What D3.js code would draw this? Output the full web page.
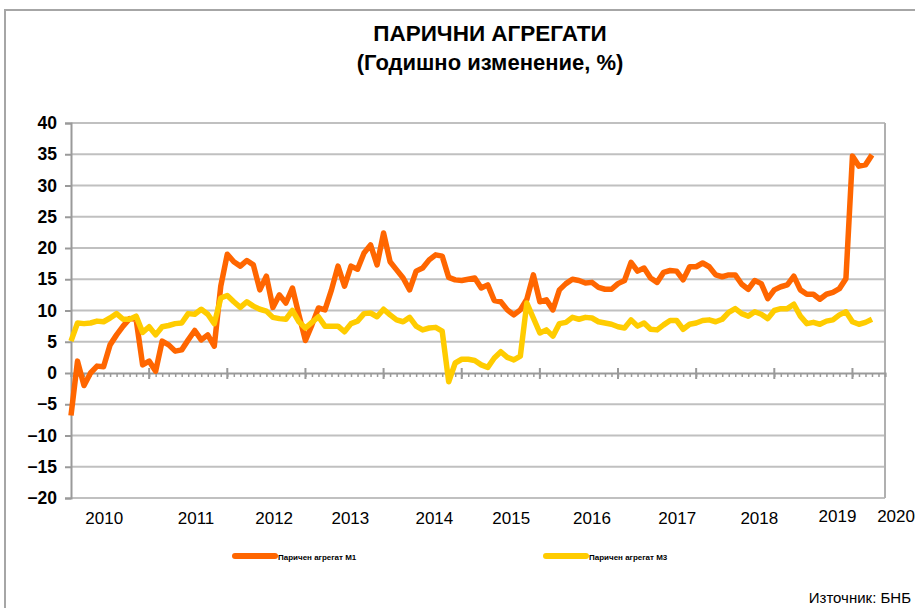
<!DOCTYPE html>
<html>
<head>
<meta charset="utf-8">
<script src="https://cdn.jsdelivr.net/npm/d3@7"></script>
<style>
  body { margin: 0; background: #fff; }
  svg { display: block; font-family: "Liberation Sans", Arial, sans-serif; }
</style>
</head>
<body>
<div id="main"></div>
<script>
/* Size */
const width = 915, height = 608;

/* Data: monthly categories, Jan 2010 .. Jun 2020 */
const months = d3.timeMonth.range(new Date(2010, 0, 1), new Date(2020, 6, 1));

// Паричен агрегат М1, годишно изменение %
const m1 = [
  -6.8, 1.9, -2.0, 0.0, 1.1, 1.0, 4.5, 6.1, 7.5, 8.7, 8.6, 1.3,
  1.9, 0.3, 5.1, 4.5, 3.5, 3.7, 5.3, 6.8, 5.3, 6.1, 4.3, 13.9,
  19.0, 17.8, 17.1, 18.0, 17.3, 13.3, 15.5, 10.5, 12.5, 11.2, 13.6, 9.3,
  5.2, 7.7, 10.4, 10.1, 13.3, 17.1, 13.9, 17.1, 16.6, 19.2, 20.5, 17.3,
  22.4, 17.8, 16.5, 15.2, 13.3, 16.3, 16.8, 18.1, 18.9, 18.7, 15.3, 14.9,
  14.8, 15.0, 15.2, 13.6, 14.1, 11.6, 11.4, 10.1, 9.3, 10.1, 11.8, 15.7,
  11.4, 11.7, 10.1, 13.3, 14.3, 15.0, 14.8, 14.4, 14.5, 13.7, 13.4, 13.4,
  14.3, 14.8, 17.7, 16.3, 16.8, 15.2, 14.5, 16.1, 16.4, 16.3, 14.9, 17.0,
  17.0, 17.6, 17.0, 15.7, 15.4, 15.7, 15.7, 14.2, 13.4, 14.8, 14.3, 11.9,
  13.3, 13.8, 14.1, 15.5, 13.3, 12.6, 12.6, 11.8, 12.6, 12.9, 13.5, 15.1,
  34.7, 33.1, 33.3, 34.9
];

// Паричен агрегат М3, годишно изменение %
const m3 = [
  5.1, 8.0, 7.9, 8.0, 8.3, 8.2, 8.8, 9.5, 8.6, 8.6, 9.1, 6.5,
  7.4, 6.1, 7.4, 7.6, 7.9, 8.0, 9.5, 9.4, 10.2, 9.4, 7.9, 12.0,
  12.4, 11.4, 10.5, 11.4, 10.7, 10.2, 9.9, 8.9, 8.7, 8.6, 10.0, 8.2,
  7.2, 8.1, 9.0, 7.5, 7.5, 7.5, 6.6, 7.9, 8.3, 9.5, 9.6, 9.0,
  10.2, 9.3, 8.5, 8.2, 8.9, 7.5, 6.9, 7.2, 7.3, 6.7, -1.4, 1.6,
  2.2, 2.2, 2.0, 1.3, 0.9, 2.4, 3.4, 2.5, 2.1, 2.7, 11.2, 8.8,
  6.4, 6.9, 5.9, 7.9, 8.1, 8.9, 8.6, 8.9, 8.8, 8.2, 8.0, 7.8,
  7.4, 7.2, 8.5, 7.5, 8.0, 7.0, 6.9, 7.7, 8.4, 8.4, 7.0, 7.8,
  8.0, 8.4, 8.5, 8.2, 8.6, 9.7, 10.3, 9.5, 9.1, 9.8, 9.4, 8.7,
  10.0, 10.3, 10.3, 11.0, 9.1, 7.9, 8.1, 7.8, 8.3, 8.5, 9.3, 9.8,
  8.2, 7.8, 8.1, 8.6
];

const yTicks = [-20, -15, -10, -5, 0, 5, 10, 15, 20, 25, 30, 35, 40];
const yearLabels = ["2010","2011","2012","2013","2014","2015","2016","2017","2018","2019","2020"];
// month index under which each year label sits (as placed in the original)
const yearLabelMonth = [5.1, 19.2, 31.2, 42.9, 55.8, 67.6, 80.0, 93.1, 105.7, 117.7, 126.7];

const series = [
  { name: "Паричен агрегат М1", values: m1, color: "#FF6600" },
  { name: "Паричен агрегат М3", values: m3, color: "#FFCC00" }
];

/* Scales */
const plotLeft = 71, plotRight = 885, plotTop = 123, plotBottom = 498;
const x = d3.scaleLinear().domain([0, months.length - 1]).range([plotLeft, plotRight]);
const y = d3.scaleLinear().domain([-20, 40]).range([plotBottom, plotTop]);

const svg = d3.select("#main").append("svg")
  .attr("width", width).attr("height", height);

svg.append("rect").attr("width", width).attr("height", height).attr("fill", "#fff");

// outer frame
svg.append("rect")
  .attr("x", 5).attr("y", 10).attr("width", width + 20).attr("height", height + 20)
  .attr("fill", "none").attr("stroke", "#a6a6a6").attr("stroke-width", 2);

/* Titles */
svg.append("text")
  .attr("x", 490).attr("y", 41)
  .attr("text-anchor", "middle")
  .style("font-size", "22.5px").style("font-weight", "bold")
  .text("ПАРИЧНИ АГРЕГАТИ");
svg.append("text")
  .attr("x", 490).attr("y", 70)
  .attr("text-anchor", "middle")
  .style("font-size", "22px").style("font-weight", "bold")
  .text("(Годишно изменение, %)");

/* Grid */
svg.append("g")
  .selectAll("line")
  .data(yTicks.filter(d => d !== 0))
  .join("line")
  .attr("x1", plotLeft).attr("x2", plotRight)
  .attr("y1", d => y(d)).attr("y2", d => y(d))
  .attr("stroke", "#c0c0c0").attr("stroke-width", 2);

// right border of plot
svg.append("line")
  .attr("x1", plotRight).attr("x2", plotRight).attr("y1", plotTop).attr("y2", plotBottom)
  .attr("stroke", "#b0b0b0").attr("stroke-width", 2);

/* Y axis */
const yAxis = svg.append("g")
  .attr("transform", `translate(${plotLeft},0)`)
  .call(d3.axisLeft(y).tickValues(yTicks).tickSize(6).tickPadding(8));
yAxis.select(".domain").attr("stroke", "#9a9a9a").attr("stroke-width", 2);
yAxis.selectAll(".tick line").attr("stroke", "#9a9a9a").attr("stroke-width", 2);
yAxis.selectAll(".tick text")
  .attr("fill", "#000")
  .style("font-size", "17.5px").style("font-weight", "bold")
  .style("font-family", "'Liberation Sans', Arial, sans-serif");

/* X axis on the zero line */
const xAxis = svg.append("g")
  .attr("transform", `translate(0,${y(0)})`)
  .call(d3.axisBottom(x).tickValues(d3.range(0, months.length)).tickSize(4).tickFormat(""));
xAxis.select(".domain").attr("stroke", "#9a9a9a").attr("stroke-width", 2);
xAxis.selectAll(".tick line").attr("stroke", "#9a9a9a").attr("stroke-width", 1.5);

// yearly major ticks
svg.append("g")
  .selectAll("line")
  .data(d3.range(12, months.length, 12))
  .join("line")
  .attr("x1", d => x(d)).attr("x2", d => x(d))
  .attr("y1", y(0) - 5).attr("y2", y(0) + 6)
  .attr("stroke", "#9a9a9a").attr("stroke-width", 2);

// year labels
svg.append("g")
  .selectAll("text")
  .data(yearLabels)
  .join("text")
  .attr("x", (d, i) => x(yearLabelMonth[i]))
  .attr("y", (d, i) => i >= 9 ? 522 : 524)
  .attr("text-anchor", "middle")
  .style("font-size", "17px")
  .text(d => d);

/* Lines */
const line = d3.line()
  .x((d, i) => x(i))
  .y(d => y(d));

svg.append("g")
  .selectAll("path")
  .data(series)
  .join("path")
  .attr("d", d => line(d.values))
  .attr("fill", "none")
  .attr("stroke", d => d.color)
  .attr("stroke-width", 5.5)
  .attr("stroke-linejoin", "round");

/* Legend */
const legend = svg.append("g")
  .selectAll("g")
  .data(series)
  .join("g")
  .attr("transform", (d, i) => `translate(${i ? 546 : 235},556)`);
legend.append("line")
  .attr("x1", 0).attr("x2", 40)
  .attr("stroke", d => d.color)
  .attr("stroke-width", 6)
  .attr("stroke-linecap", "round");
legend.append("text")
  .attr("x", 43).attr("y", 3.5)
  .style("font-size", "8px").style("font-weight", "bold")
  .text(d => d.name);

/* Source */
svg.append("text")
  .attr("x", 911).attr("y", 603)
  .attr("text-anchor", "end")
  .style("font-size", "15px")
  .text("Източник: БНБ");
</script>
</body>
</html>
